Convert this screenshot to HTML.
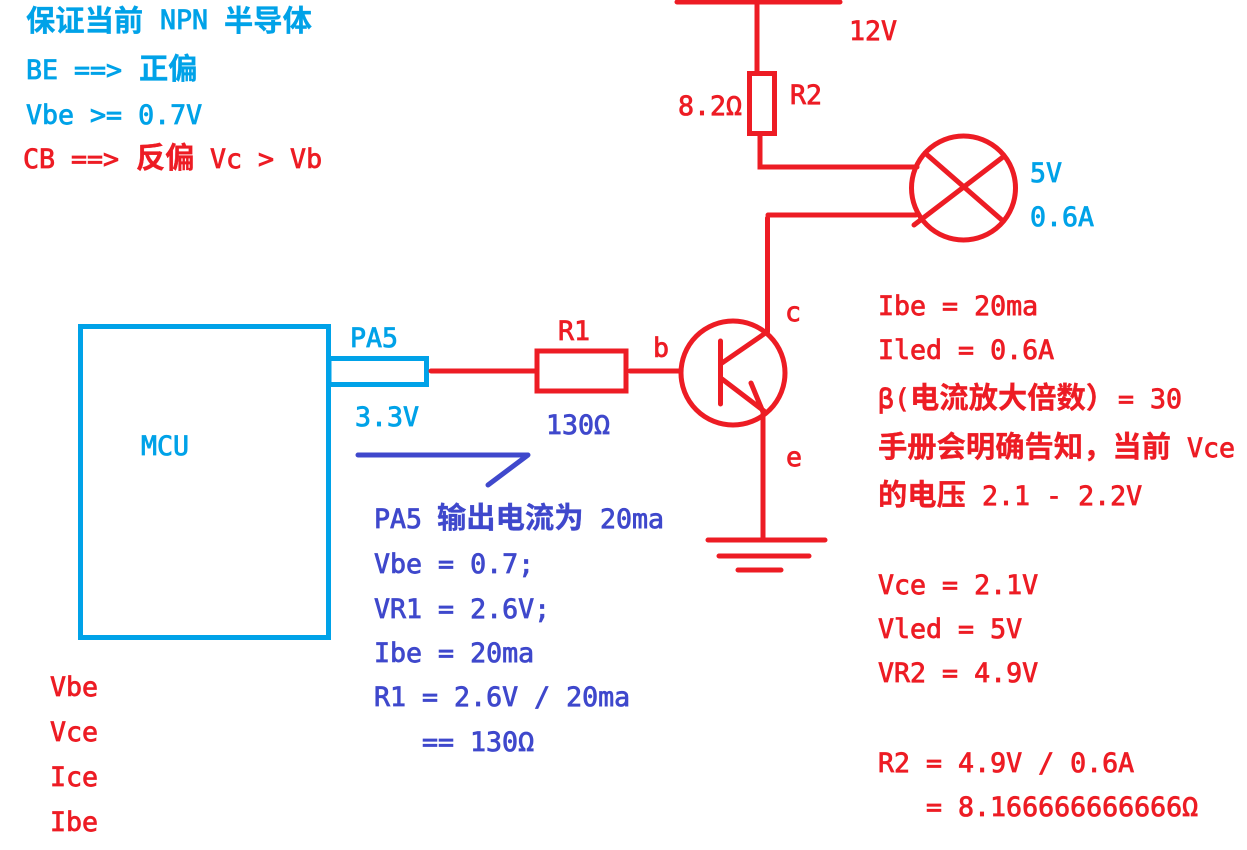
<!DOCTYPE html>
<html><head><meta charset="utf-8"><style>
html,body{margin:0;padding:0;background:#fff;width:1247px;height:850px;overflow:hidden}
svg{display:block}
text{font-family:"DejaVu Sans Mono","Liberation Mono",monospace;font-size:26.6px;font-weight:400;white-space:pre;stroke-width:.8px}
.c{font-family:"Liberation Sans","Noto Sans CJK SC",sans-serif;font-size:29.3px;font-weight:700;stroke-width:.3px}
.r{fill:#ed1c24;stroke:#ed1c24}.b{fill:#00a2e8;stroke:#00a2e8}.i{fill:#3f48cc;stroke:#3f48cc}
.lr{stroke:#ed1c24;stroke-width:5;fill:none;stroke-linecap:round}
.lb{stroke:#00a2e8;stroke-width:5;fill:none}
</style></head><body>
<svg width="1247" height="850" viewBox="0 0 1247 850" xmlns="http://www.w3.org/2000/svg">
<rect x="80.5" y="326.5" width="248" height="311" class="lb"/>
<rect x="329" y="358.5" width="97.5" height="26" class="lb"/>
<g class="lr">
<path d="M677 2H840M757 0V72"/>
<rect x="749.5" y="73.5" width="25" height="60"/>
<path d="M760 135V167H917M768 215H916M767.5 218V332"/>
<circle cx="963.5" cy="188" r="52"/>
<path d="M925 153L1003 221M1003 157L914 225"/>
<path d="M431 371H537"/>
<rect x="537" y="351" width="89" height="40"/>
<path d="M630 371H680"/>
<circle cx="733" cy="373" r="52"/>
<path d="M720.500 341V404M722 363L764 334M722 379L764 411M751 383L763 412M763 414V540M708 540H825M719 556H809M738 570H781"/>
</g>
<path d="M358 455H528L488 485" fill="none" stroke="#3f48cc" stroke-width="5" stroke-linecap="round" stroke-linejoin="round"/>

<text class="c b" x="26" y="31">保证当前</text><text class="b" x="160" y="29">NPN</text><text class="c b" x="224" y="31">半导体</text>
<text class="b" x="26" y="79">BE ==&gt;</text><text class="c b" x="139" y="79">正偏</text>
<text class="b" x="26" y="124">Vbe &gt;= 0.7V</text>
<text class="r" x="23" y="168">CB ==&gt;</text><text class="c r" x="136" y="168">反偏</text><text class="r" x="210" y="168">Vc &gt; Vb</text>

<text class="b" x="141" y="455">MCU</text>
<text class="b" x="350" y="347">PA5</text>
<text class="b" x="355" y="426">3.3V</text>
<text class="r" x="558" y="340">R1</text>
<text class="i" x="546" y="434">130Ω</text>
<text class="r" x="653" y="357">b</text>
<text class="r" x="785" y="321">c</text>
<text class="r" x="786" y="466">e</text>
<text class="r" x="849" y="40">12V</text>
<text class="r" x="790" y="104">R2</text>
<text class="r" x="678" y="115">8.2Ω</text>
<text class="b" x="1030" y="182">5V</text>
<text class="b" x="1030" y="226">0.6A</text>

<text class="r" x="878" y="315">Ibe = 20ma</text>
<text class="r" x="878" y="359">Iled = 0.6A</text>
<text class="r" x="878" y="408">β(</text><text class="c r" x="910" y="408">电流放大倍数）</text><text class="r" x="1118" y="408">= 30</text>
<text class="c r" x="878" y="457">手册会明确告知，当前</text><text class="r" x="1187" y="457">Vce</text>
<text class="c r" x="878" y="505">的电压</text><text class="r" x="982" y="505">2.1 - 2.2V</text>
<text class="r" x="878" y="594">Vce = 2.1V</text>
<text class="r" x="878" y="638">Vled = 5V</text>
<text class="r" x="878" y="682">VR2 = 4.9V</text>
<text class="r" x="878" y="772">R2 = 4.9V / 0.6A</text>
<text class="r" x="926" y="816">= 8.166666666666Ω</text>

<text class="i" x="374" y="528">PA5</text><text class="c i" x="437" y="528">输出电流为</text><text class="i" x="600" y="528">20ma</text>
<text class="i" x="374" y="573">Vbe = 0.7;</text>
<text class="i" x="374" y="618">VR1 = 2.6V;</text>
<text class="i" x="374" y="662">Ibe = 20ma</text>
<text class="i" x="374" y="706">R1 = 2.6V / 20ma</text>
<text class="i" x="422" y="751">== 130Ω</text>

<text class="r" x="50" y="696">Vbe</text>
<text class="r" x="50" y="741">Vce</text>
<text class="r" x="50" y="786">Ice</text>
<text class="r" x="50" y="831">Ibe</text>
</svg>
</body></html>
